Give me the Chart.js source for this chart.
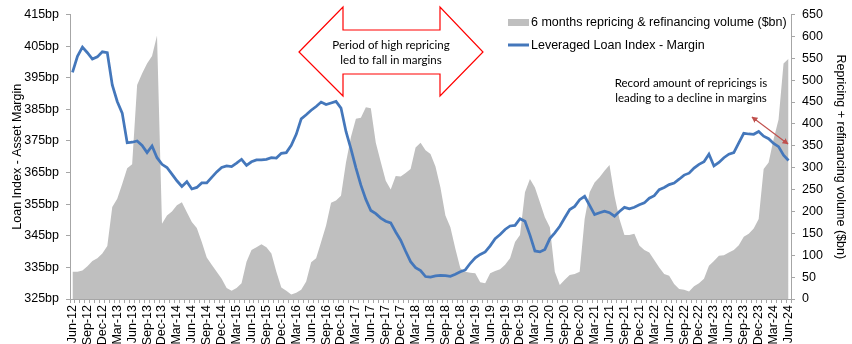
<!DOCTYPE html>
<html>
<head>
<meta charset="utf-8">
<script src="https://cdn.jsdelivr.net/npm/chart.js@4.4.1/dist/chart.umd.min.js"></script>
<style>
  body { margin: 0; background: #fff; }
  #wrap { position: relative; width: 852px; height: 344px; }
  #chart { position: absolute; left: 0; top: 0; }
  #deco { position: absolute; left: 0; top: 0; pointer-events: none; }
  .lbl { position: absolute; font-family: 'Liberation Sans Narrow', 'Liberation Sans', Arial, sans-serif; font-size: 12.5px; color: #000; white-space: nowrap; line-height: 14px; }
  .note { position: absolute; font-family: Lato, 'Open Sans', sans-serif; font-size: 11.5px; color: #000; text-align: center; white-space: nowrap; line-height: 15px; }
</style>
</head>
<body>
<div id="wrap">
  <canvas id="chart" width="852" height="344"></canvas>
  <svg id="deco" width="852" height="344">
    <defs>
      <marker id="ah" viewBox="0 0 10 10" refX="9" refY="5" markerWidth="5" markerHeight="5" orient="auto-start-reverse">
        <path d="M0,0 L10,5 L0,10 z" fill="#c0504d"></path>
      </marker>
    </defs>
    <!-- big double arrow -->
    <polygon points="299,52 343,7 343,30 440,30 440,7 483,52 440,96 440,74 343,74 343,96"
             fill="#fff" stroke="#ff0000" stroke-width="1.2"></polygon>
    <!-- small double arrow -->
    <line x1="752" y1="117" x2="788" y2="144" stroke="#c0504d" stroke-width="1.2"
          marker-start="url(#ah)" marker-end="url(#ah)"></line>
    <!-- legend swatches -->
    <rect x="508" y="19" width="21" height="7" fill="#bfbfbf"></rect>
    <line x1="508" y1="45" x2="529" y2="45" stroke="#4477bb" stroke-width="3"></line>
  </svg>
  <div class="lbl" style="left:531px; top:15px;">6 months repricing &amp; refinancing volume ($bn)</div>
  <div class="lbl" style="left:531px; top:38px;">Leveraged Loan Index - Margin</div>
  <div class="note" style="left:311px; width:160px; top:37px;">Period of high repricing<br>led to fall in margins</div>
  <div class="note" style="left:611px; width:160px; top:75px;">Record amount of repricings is<br>leading to a decline in margins</div>
</div>
<script>
// month labels Jun-12 .. Jun-24
const monthNames = ['Jan', 'Feb', 'Mar', 'Apr', 'May', 'Jun', 'Jul', 'Aug', 'Sep', 'Oct', 'Nov', 'Dec'];
const categories = [];
for (let k = 0; k < 145; k++) {
  const m = (5 + k) % 12;
  const y = 12 + Math.floor((5 + k) / 12);
  categories.push(monthNames[m] + '-' + y);
}

// Leveraged Loan Index - Margin (bp), left axis
const margin = [
  396.7, 401.8, 404.7, 402.9, 400.9, 401.6, 403.2, 402.9, 392.7, 387.5, 383.8, 374.4,
  374.6, 375.0, 373.6, 371.3, 373.4, 369.7, 367.6, 366.6, 364.5, 362.4, 360.6, 362.1,
  359.8, 360.3, 361.7, 361.7, 363.5, 365.2, 366.6, 367.1, 366.9, 368.0, 369.2, 367.3,
  368.4, 369.0, 369.0, 369.2, 369.7, 369.6, 371.1, 371.3, 373.6, 377.1, 382.0, 383.3,
  384.7, 385.9, 387.3, 386.5, 387.0, 387.5, 385.4, 378.0, 372.5, 366.5, 361.0, 356.5,
  353.0, 352.0, 350.6, 349.6, 349.1, 346.2, 343.6, 340.1, 336.8, 334.9, 334.0, 332.1,
  331.9, 332.3, 332.5, 332.4, 332.2, 332.8, 333.6, 334.2, 336.3, 338.0, 339.1, 339.9,
  341.8, 344.1, 345.4, 347.0, 348.1, 348.3, 350.4, 349.6, 345.2, 340.2, 339.9, 340.7,
  344.1, 345.9, 348.0, 350.7, 353.3, 354.3, 356.4, 357.5, 354.6, 351.7, 352.3, 352.8,
  352.3, 351.2, 352.7, 354.0, 353.5, 354.0, 354.8, 355.4, 356.9, 357.7, 359.6, 360.3,
  361.2, 361.7, 362.9, 364.2, 364.8, 366.4, 367.6, 368.4, 370.8, 367.1, 368.2, 369.7,
  370.8, 371.3, 374.4, 377.4, 377.2, 377.1, 378.0, 376.5, 375.7, 374.2, 373.2, 370.5,
  368.8
];

// 6 months repricing & refinancing volume ($bn), right axis
const volume = [
  62, 62, 65, 75, 87, 93, 104, 121, 210, 229, 263, 299,
  308, 489, 515, 538, 555, 602, 172, 191, 200, 214, 221, 198,
  176, 162, 130, 95, 78, 62, 46, 25, 19, 25, 36, 85,
  112, 118, 125, 118, 104, 62, 26, 19, 10, 14, 21, 40,
  84, 93, 130, 168, 220, 225, 236, 312, 370, 412, 414, 438,
  436, 357, 313, 270, 250, 281, 280, 288, 297, 346, 357, 340,
  331, 303, 255, 191, 164, 115, 70, 62, 60, 59, 38, 36,
  59, 64, 68, 78, 93, 130, 146, 244, 274, 255, 221, 187,
  164, 62, 32, 44, 55, 57, 62, 183, 244, 266, 278, 293,
  306, 236, 183, 146, 146, 149, 122, 112, 106, 89, 72, 57,
  53, 34, 23, 21, 17, 29, 36, 46, 76, 87, 99, 100,
  106, 112, 123, 142, 149, 161, 183, 297, 312, 365, 410, 538,
  549
];

const axisFont = { family: "'Liberation Sans Narrow', 'Liberation Sans', Arial, sans-serif", size: 12.5 };
const axisColor = '#a6a6a6';

const ctx = document.getElementById('chart').getContext('2d');
new Chart(ctx, {
  type: 'line',
  data: {
    labels: categories,
    datasets: [
      {
        label: 'Leveraged Loan Index - Margin',
        data: margin,
        yAxisID: 'y',
        borderColor: '#4477bb',
        borderWidth: 2.75,
        pointRadius: 0,
        tension: 0,
        fill: false,
        order: 0
      },
      {
        label: '6 months repricing & refinancing volume ($bn)',
        data: volume,
        yAxisID: 'y1',
        borderWidth: 0,
        borderColor: 'rgba(0,0,0,0)',
        backgroundColor: '#bfbfbf',
        pointRadius: 0,
        tension: 0,
        fill: 'origin',
        order: 1
      }
    ]
  },
  options: {
    responsive: false,
    animation: false,
    layout: { padding: { top: 12, left: 0, right: 0, bottom: 0 } },
    plugins: {
      legend: { display: false },
      tooltip: { enabled: false }
    },
    scales: {
      x: {
        type: 'category',
        offset: true,
        grid: { offset: true, drawOnChartArea: false, drawTicks: true, tickLength: 4, color: axisColor },
        border: { color: axisColor },
        ticks: {
          autoSkip: false,
          minRotation: 90,
          maxRotation: 90,
          padding: 2,
          color: '#000',
          font: axisFont,
          callback: (v, i) => (i % 3 === 0 ? categories[i] : '')
        },
        afterFit: s => { s.height = 45; }
      },
      y: {
        position: 'left',
        min: 325,
        max: 415,
        grid: { drawOnChartArea: false, tickLength: 4, color: axisColor },
        border: { color: axisColor },
        ticks: { stepSize: 10, padding: 7, color: '#000', font: axisFont, callback: v => v + 'bp' },
        title: { display: true, text: 'Loan Index - Asset Margin', color: '#000', font: axisFont, padding: { top: 10, bottom: 0 } },
        afterFit: s => { s.width = 70; }
      },
      y1: {
        position: 'right',
        min: 0,
        max: 650,
        grid: { drawOnChartArea: false, tickLength: 4, color: axisColor },
        border: { color: axisColor },
        ticks: { stepSize: 50, padding: 7, color: '#000', font: axisFont },
        title: { display: true, text: 'Repricing + refinancing volume ($bn)', color: '#000', font: axisFont, padding: { top: 4, bottom: 0 } },
        afterFit: s => { s.width = 61; }
      }
    }
  }
});
</script>
</body>
</html>
